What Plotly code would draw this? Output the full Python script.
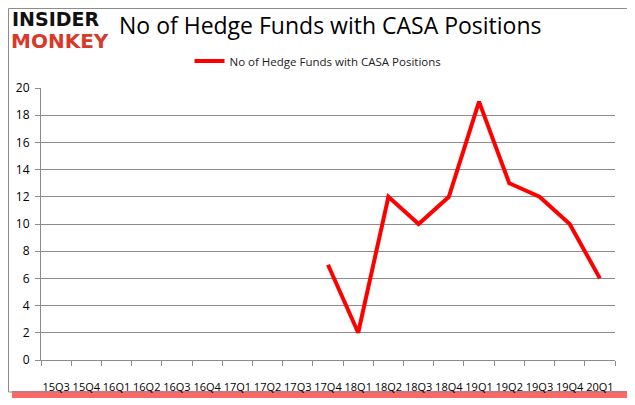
import plotly.graph_objects as go

quarters = ["15Q3","15Q4","16Q1","16Q2","16Q3","16Q4","17Q1","17Q2","17Q3","17Q4",
            "18Q1","18Q2","18Q3","18Q4","19Q1","19Q2","19Q3","19Q4","20Q1"]
funds = [None,None,None,None,None,None,None,None,None,7,2,12,10,12,19,13,12,10,6]
series_name = "No of Hedge Funds with CASA Positions"
title_text = "No of Hedge Funds with CASA Positions"

# page has an 8px body margin; figure coords = reference pixel - 8
OFF = 8
W, H = 627, 397
L, R, T, B = 33, 20, 80, 45
pw, ph = W - L - R, H - T - B

def px(x):
    return (x - OFF - L) / pw

def py(y):
    return (H - B - (y - OFF)) / ph

fig = go.Figure()
fig.add_trace(go.Scatter(
    x=quarters, y=funds, mode="lines", name=series_name,
    line=dict(color="#ff0000", width=4), connectgaps=False,
))

shapes = [
    dict(type="rect", xref="paper", yref="paper", x0=px(12), x1=px(632), y0=py(398), y1=py(391),
         fillcolor="rgba(255,0,0,0.6)", line=dict(width=0), layer="below"),
    dict(type="rect", xref="paper", yref="paper", x0=px(8.5), x1=px(628), y0=py(392), y1=py(8.5),
         fillcolor="rgba(0,0,0,0)", line=dict(color="#8c8c8c", width=1), layer="below"),
]

annotations = [
    dict(text="<b>INSIDER</b>", x=px(10), y=py(6), xref="paper", yref="paper",
         xanchor="left", yanchor="top", showarrow=False,
         font=dict(family="DejaVu Sans", size=19, color="#111111")),
    dict(text="<b>MONKEY</b>", x=px(9), y=py(27), xref="paper", yref="paper",
         xanchor="left", yanchor="top", showarrow=False,
         font=dict(family="DejaVu Sans", size=20, color="#d63a2a")),
    dict(text=title_text, x=px(330), y=py(25), xref="paper", yref="paper",
         xanchor="center", yanchor="middle", showarrow=False,
         font=dict(family="Open Sans", size=23, color="#000000")),
]

fig.update_layout(
    width=W, height=H,
    margin=dict(l=L, r=R, t=T, b=B, autoexpand=False),
    paper_bgcolor="white", plot_bgcolor="white",
    shapes=shapes, annotations=annotations,
    showlegend=True,
    legend=dict(orientation="h", x=px(318), xanchor="center", xref="paper",
                y=py(61), yanchor="middle", yref="paper",
                font=dict(family="Open Sans", size=11.5, color="#222222"),
                bgcolor="rgba(0,0,0,0)"),
    xaxis=dict(type="category", range=[-0.5, 18.5], tickson="boundaries",
               ticks="outside", ticklen=5, tickcolor="#8c8c8c", tickangle=0,
               ticklabelstandoff=17, automargin=False,
               showline=True, linecolor="#8c8c8c", linewidth=1,
               showgrid=False, tickfont=dict(family="Open Sans", size=11, color="#000000")),
    yaxis=dict(range=[0, 20], dtick=2, ticks="outside", ticklen=5, tickcolor="#8c8c8c",
               showline=True, linecolor="#8c8c8c", linewidth=1, automargin=False,
               ticklabelstandoff=3,
               showgrid=True, gridcolor="#8c8c8c", gridwidth=1, zeroline=False,
               tickfont=dict(family="Open Sans", size=12, color="#000000")),
)

fig.write_html("out.html")
